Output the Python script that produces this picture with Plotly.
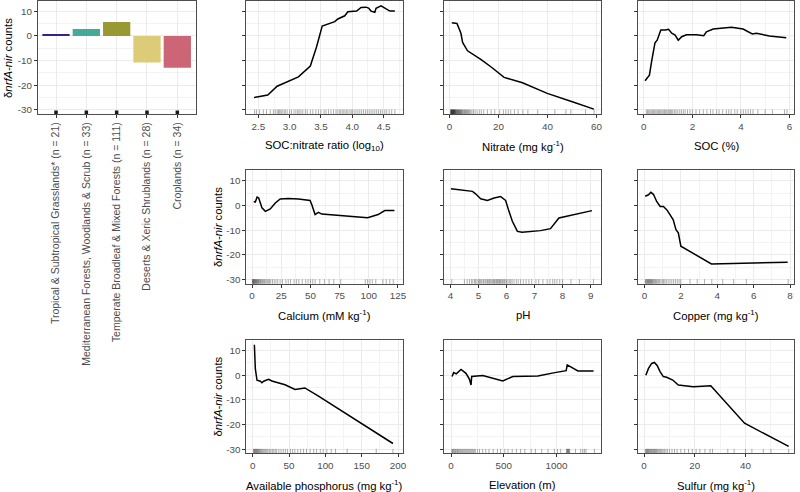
import plotly.graph_objects as go

FONT = "Liberation Sans, Arial, Helvetica, sans-serif"

# ---------------- data ----------------
biome_labels = [
    "Tropical & Subtropical Grasslands* (n = 21)",
    "Mediterranean Forests, Woodlands & Scrub (n = 33)",
    "Temperate Broadleaf & Mixed Forests (n = 111)",
    "Deserts & Xeric Shrublands (n = 28)",
    "Croplands (n = 34)",
]
biome_effect = [0.6, 2.8, 5.7, -10.8, -12.9]
biome_colors = ["#332288", "#44AA99", "#999933", "#DDCC77", "#CC6677"]

y_ticks = [-30, -20, -10, 0, 10]
y_tick_text = ["-30", "-20", "-10", "0", "10"]

socn_x = [2.43, 2.65, 2.80, 2.95, 3.14, 3.33, 3.43, 3.52, 3.67, 3.72, 3.77, 3.88, 3.93, 4.01, 4.07,
          4.14, 4.22, 4.26, 4.30, 4.36, 4.38, 4.46, 4.52, 4.60, 4.68]
socn_y = [-25.0, -24.0, -20.4, -18.6, -16.6, -12.2, -4.4, 4.0, 5.4, 5.8, 6.9, 8.2, 9.8, 10.1, 10.1,
          11.6, 11.7, 11.3, 10.1, 9.6, 11.2, 12.2, 11.2, 10.1, 10.1]
socn_rug = [2.44, 2.47, 2.52, 2.58, 2.63, 2.69, 2.74, 2.77, 2.8, 2.82, 2.84, 2.86, 2.88, 2.91, 2.93,
            2.96, 3.0, 3.03, 3.07, 3.1, 3.13, 3.15, 3.18, 3.21, 3.25, 3.28, 3.33, 3.37, 3.42, 3.46,
            3.5, 3.55, 3.58, 3.62, 3.66, 3.7, 3.74, 3.77, 3.8, 3.82, 3.85, 3.87, 3.9, 3.92, 3.95,
            3.98, 4.0, 4.03, 4.06, 4.09, 4.12, 4.15, 4.18, 4.21, 4.24, 4.27, 4.3, 4.33, 4.36, 4.39,
            4.42, 4.45, 4.48, 4.52, 4.55, 4.59, 4.63, 4.68]
socn_ticks = [2.5, 3.0, 3.5, 4.0, 4.5]
socn_tick_text = ["2.5", "3.0", "3.5", "4.0", "4.5"]

nitrate_x = [1.0, 3.1, 4.7, 5.4, 7.4, 10.2, 12.8, 16.9, 21.0, 22.3, 29.8, 39.9, 50.1, 58.9]
nitrate_y = [5.4, 5.1, 1.1, -2.6, -6.0, -7.8, -9.5, -12.5, -15.9, -16.8, -19.0, -23.3, -26.7, -29.7]
nitrate_rug = [0.5, 0.6, 0.7, 0.8, 0.9, 1.0, 1.1, 1.2, 1.3, 1.4, 1.5, 1.6, 1.7, 1.8, 1.9, 2.0, 2.1,
               2.2, 2.35, 2.5, 2.6, 2.8, 3.0, 3.1, 3.3, 3.5, 3.6, 3.8, 4.0, 4.2, 4.4, 4.6, 4.8, 5.0,
               5.3, 5.6, 5.9, 6.2, 6.5, 6.8, 7.1, 7.4, 7.8, 8.2, 8.7, 9.2, 9.8, 10.5, 11.3, 12.2,
               13.0, 14.0, 15.5, 17.0, 18.5, 20.5, 22.0, 23.0, 24.0, 25.0, 26.5, 28.0, 30.0, 32.0,
               36.0, 43.0, 47.5, 49.5, 55.5, 59.0]
nitrate_ticks = [0, 20, 40, 60]
nitrate_tick_text = ["0", "20", "40", "60"]

soc_x = [0.05, 0.23, 0.33, 0.46, 0.55, 0.70, 0.88, 1.02, 1.15, 1.29, 1.42, 1.56, 1.76, 2.17, 2.47,
         2.58, 2.86, 3.27, 3.61, 4.09, 4.30, 4.47, 4.64, 5.18, 5.87]
soc_y = [-18.2, -15.9, -9.8, -2.8, -1.7, 2.4, 2.4, 2.7, 1.1, 0.4, -1.7, -0.3, 0.5, 0.5, 0.1,
         1.7, 2.8, 3.1, 3.5, 2.8, 1.7, 0.8, 1.1, 0.0, -0.7]
soc_rug = [0.1, 0.15, 0.2, 0.25, 0.3, 0.35, 0.4, 0.45, 0.5, 0.55, 0.6, 0.65, 0.7, 0.75, 0.8, 0.85,
           0.9, 0.95, 1.0, 1.05, 1.1, 1.15, 1.2, 1.27, 1.33, 1.4, 1.48, 1.55, 1.63, 1.7, 1.8, 1.9,
           2.0, 2.15, 2.3, 2.45, 2.6, 2.75, 2.85, 3.0, 3.1, 3.25, 3.4, 3.5, 3.6, 3.75, 3.85, 4.0,
           4.1, 4.2, 4.3, 4.4, 4.5, 4.7, 5.0, 5.3, 5.8, 5.9]
soc_ticks = [0, 2, 4, 6]
soc_tick_text = ["0", "2", "4", "6"]

ca_x = [1.4, 2.8, 4.3, 5.7, 7.1, 8.5, 11.4, 15.6, 19.9, 24.1, 31.2, 39.8, 49.7, 51.2, 54.0, 56.8,
        59.7, 76.7, 93.8, 99.0, 108.0, 113.7, 122.0]
ca_y = [1.6, 1.4, 3.4, 3.0, 1.0, -1.0, -2.4, -1.4, 1.0, 2.6, 2.8, 2.6, 2.0, 0.3, -3.7, -2.8,
        -3.5, -4.1, -4.7, -5.0, -3.7, -2.1, -2.1]
ca_rug = [0.3, 0.6, 1.0, 1.3, 1.6, 2.0, 2.4, 2.8, 3.2, 3.6, 4.0, 4.5, 5.0, 5.5, 6.0, 6.6, 7.2, 8.0,
          8.8, 9.5, 10.3, 11.0, 12.0, 13.0, 14.0, 15.0, 16.0, 17.5, 19.0, 20.5, 22.0, 24.0, 26.0,
          29.0, 31.0, 33.0, 36.0, 38.0, 40.0, 43.0, 46.0, 48.0, 50.0, 52.0, 54.0, 58.0, 62.0,
          66.0, 70.0, 76.0, 97.0, 99.0, 101.0, 103.0, 106.0, 112.0, 115.0, 118.0, 121.0]
ca_ticks = [0, 25, 50, 75, 100, 125]
ca_tick_text = ["0", "25", "50", "75", "100", "125"]

ph_x = [4.02, 4.79, 4.90, 5.08, 5.32, 5.56, 5.79, 5.97, 6.09, 6.21, 6.39, 6.56, 7.21, 7.57, 7.87, 9.05]
ph_y = [6.8, 5.7, 4.7, 2.7, 2.0, 3.0, 3.6, 2.0, -2.4, -6.4, -10.5, -10.9, -10.2, -9.4, -5.1, -2.1]
ph_rug = [4.05, 4.5, 4.6, 4.68, 4.75, 4.8, 4.86, 4.9, 4.95, 5.0, 5.04, 5.08, 5.12, 5.17, 5.2,
          5.25, 5.3, 5.33, 5.37, 5.4, 5.44, 5.48, 5.52, 5.55, 5.58, 5.62, 5.65, 5.68, 5.72, 5.75,
          5.78, 5.81, 5.85, 5.88, 5.92, 5.95, 6.0, 6.05, 6.1, 6.15, 6.2, 6.27, 6.35, 6.42, 6.5,
          6.6, 6.7, 6.8, 6.9, 7.05, 7.15, 7.3, 7.45, 7.55, 7.65, 7.72, 7.8, 7.9, 8.0, 8.3, 8.6, 9.1]
ph_ticks = [4, 5, 6, 7, 8, 9]
ph_tick_text = ["4", "5", "6", "7", "8", "9"]

cu_x = [0.04, 0.22, 0.35, 0.49, 0.67, 0.86, 1.04, 1.22, 1.40, 1.58, 1.73, 1.86, 2.00, 3.68, 7.87]
cu_y = [3.7, 4.3, 5.3, 4.5, 1.6, -0.4, -0.4, -1.7, -3.7, -5.8, -9.8, -11.1, -16.5, -23.7, -23.0]
cu_rug = [0.05, 0.08, 0.12, 0.15, 0.18, 0.22, 0.25, 0.28, 0.32, 0.35, 0.38, 0.42, 0.45, 0.5,
          0.55, 0.6, 0.65, 0.7, 0.76, 0.82, 0.9, 0.98, 1.05, 1.12, 1.2, 1.3, 1.4, 1.5, 1.6, 1.7,
          1.8, 1.9, 2.0, 2.5, 2.9, 3.3, 3.7, 4.3, 4.9, 5.6, 7.9]
cu_ticks = [0, 2, 4, 6, 8]
cu_tick_text = ["0", "2", "4", "6", "8"]

p_x = [2.3, 3.6, 5.9, 10.5, 12.7, 15.0, 21.8, 26.4, 44.5, 58.2, 71.8, 90.0, 193.0]
p_y = [12.3, 2.6, -2.1, -2.5, -3.1, -2.5, -1.7, -2.4, -3.9, -5.8, -5.2, -8.4, -27.7]
p_rug = [1.0, 1.8, 2.5, 3.2, 4.0, 4.8, 5.5, 6.3, 7.0, 8.0, 9.0, 10.0, 11.0, 12.0, 13.5, 15.0,
         16.5, 18.0, 19.5, 21.0, 23.0, 25.0, 27.0, 29.0, 31.0, 33.0, 36.0, 39.0, 42.0, 45.0,
         48.0, 52.0, 55.0, 58.0, 62.0, 66.0, 70.0, 74.0, 79.0, 84.0, 88.0, 93.0, 97.0, 102.0,
         108.0, 114.0, 130.0, 170.0, 193.0]
p_ticks = [0, 50, 100, 150, 200]
p_tick_text = ["0", "50", "100", "150", "200"]

elev_x = [9.5, 25.6, 50.0, 95.0, 142.0, 174.0, 190.0, 196.0, 301.0, 491.0, 586.0, 823.0, 997.0,
          1092.0, 1102.0, 1203.0, 1352.0]
elev_y = [-0.6, 1.0, 0.5, 2.3, 0.7, -1.6, -4.0, -0.6, -0.2, -2.4, -0.6, -0.4, 1.1, 1.8, 4.1, 1.7, 1.7]
elev_rug = [8, 15, 22, 30, 38, 45, 55, 62, 70, 80, 90, 100, 110, 120, 130, 140, 150, 160, 170,
            180, 190, 200, 210, 220, 230, 250, 270, 300, 330, 360, 400, 440, 470, 510, 540,
            580, 620, 660, 700, 760, 800, 860, 920, 980, 1010, 1040, 1095, 1100, 1105, 1110,
            1115, 1120, 1125, 1180, 1230, 1250, 1265, 1280, 1360]
elev_ticks = [0, 500, 1000]
elev_tick_text = ["0", "500", "1000"]

s_x = [0.7, 1.7, 3.0, 4.1, 5.2, 6.3, 7.6, 8.9, 11.3, 13.5, 19.4, 26.3, 39.6, 57.0]
s_y = [-0.1, 2.6, 4.7, 5.1, 3.8, 1.4, -0.6, -0.9, -2.0, -4.0, -4.7, -4.3, -19.5, -28.9]
s_rug = [0.5, 0.8, 1.0, 1.3, 1.5, 1.8, 2.0, 2.3, 2.6, 2.9, 3.2, 3.5, 3.8, 4.1, 4.4, 4.7, 5.0,
         5.4, 5.8, 6.2, 6.6, 7.0, 7.5, 8.0, 8.6, 9.2, 10.0, 11.0, 12.0, 13.0, 14.5, 16.0, 17.5,
         19.0, 20.5, 22.0, 24.0, 26.0, 27.0, 33.0, 35.5, 40.0, 42.5, 47.0, 50.0, 57.0]
s_ticks = [0, 20, 40]
s_tick_text = ["0", "20", "40"]

# ---------------- layout geometry ----------------
W, H = 800, 492
COLS = {"bar": (38.0, 196.5), "A": (247.7, 405.0), "B": (446.7, 604.0), "C": (641.7, 798.0)}
ROWS = {1: (1.0, 114.3), 2: (170.7, 284.3), 3: (340.7, 454.3)}
Y_RANGE = [-31.7, 14.2]
RUG_Y = -31.0


def xdom(c):
    a, b = COLS[c]
    return [a / W, b / W]


def ydom(r):
    t, b = ROWS[r]
    return [1 - b / H, 1 - t / H]


def minor_ticks(major, lo, hi):
    step = major[1] - major[0]
    ext = [major[0] - step] + list(major) + [major[-1] + step]
    mids = [(a + b) / 2 for a, b in zip(ext[:-1], ext[1:])]
    return [m for m in mids if lo <= m <= hi]


GRID = "#EBEBEB"
MINOR = "#F3F3F3"
BORDER = "#4D4D4D"
TICKFONT = dict(family=FONT, size=9.8, color="#4D4D4D")
TITLEFONT = dict(family=FONT, size=11.3, color="black")

panels = [
    dict(x=socn_x, y=socn_y, rug=socn_rug, col="A", row=1, xr=[2.31, 4.81], xt=socn_ticks,
         xtt=socn_tick_text, title="SOC:nitrate ratio (log<sub>10</sub>)", ylab=False),
    dict(x=nitrate_x, y=nitrate_y, rug=nitrate_rug, col="B", row=1, xr=[-2.0, 61.8], xt=nitrate_ticks,
         xtt=nitrate_tick_text, title="Nitrate (mg kg<sup>-1</sup>)", ylab=False),
    dict(x=soc_x, y=soc_y, rug=soc_rug, col="C", row=1, xr=[-0.22, 6.19], xt=soc_ticks,
         xtt=soc_tick_text, title="SOC (%)", ylab=False),
    dict(x=ca_x, y=ca_y, rug=ca_rug, col="A", row=2, xr=[-4.8, 129.3], xt=ca_ticks,
         xtt=ca_tick_text, title="Calcium (mM kg<sup>-1</sup>)", ylab=True),
    dict(x=ph_x, y=ph_y, rug=ph_rug, col="B", row=2, xr=[3.79, 9.37], xt=ph_ticks,
         xtt=ph_tick_text, title="pH", ylab=False),
    dict(x=cu_x, y=cu_y, rug=cu_rug, col="C", row=2, xr=[-0.33, 8.22], xt=cu_ticks,
         xtt=cu_tick_text, title="Copper (mg kg<sup>-1</sup>)", ylab=False),
    dict(x=p_x, y=p_y, rug=p_rug, col="A", row=3, xr=[-8.6, 206.8], xt=p_ticks,
         xtt=p_tick_text, title="Available phosphorus (mg kg<sup>-1</sup>)", ylab=True),
    dict(x=elev_x, y=elev_y, rug=elev_rug, col="B", row=3, xr=[-62, 1422], xt=elev_ticks,
         xtt=elev_tick_text, title="Elevation (m)", ylab=False),
    dict(x=s_x, y=s_y, rug=s_rug, col="C", row=3, xr=[-2.2, 59.1], xt=s_ticks,
         xtt=s_tick_text, title="Sulfur (mg kg<sup>-1</sup>)", ylab=False),
]

TITLE_Y = {1: 146.0, 2: 316.0, 3: 486.0}

fig = go.Figure()
layout = dict(
    width=W, height=H,
    margin=dict(l=0, r=0, t=0, b=0),
    paper_bgcolor="white", plot_bgcolor="white",
    showlegend=False,
    font=dict(family=FONT, color="black"),
)
annotations = []


def axis_common():
    return dict(
        showline=True, mirror=True, linecolor=BORDER, linewidth=1,
        ticks="outside", ticklen=3, tickwidth=1, tickcolor="#333333",
        showgrid=True, gridcolor=GRID, gridwidth=1, zeroline=False,
        tickfont=TICKFONT, fixedrange=True,
    )


# ---- bar panel (axis 1) ----
fig.add_trace(go.Bar(x=biome_labels, y=biome_effect, marker=dict(color=biome_colors, line=dict(width=0)),
                     width=0.9, xaxis="x", yaxis="y", hoverinfo="skip"))
fig.add_trace(go.Scatter(x=biome_labels, y=[RUG_Y] * len(biome_labels), mode="markers",
                         marker=dict(symbol="square", size=3.5, color="#1a1a1a"),
                         xaxis="x", yaxis="y", hoverinfo="skip"))
xa = axis_common()
xa.update(domain=xdom("bar"), anchor="y", type="category", range=[-0.6, 4.6],
          tickangle=-90, tickfont=dict(family=FONT, size=10.5, color="#4D4D4D"))
ya = axis_common()
ya.update(domain=ydom(1), anchor="x", range=Y_RANGE, tickvals=y_ticks, ticktext=y_tick_text,
          minor=dict(tickvals=minor_ticks(y_ticks, *Y_RANGE), showgrid=True, gridcolor=MINOR,
                     gridwidth=0.6, ticks=""))
layout["xaxis"] = xa
layout["yaxis"] = ya
annotations.append(dict(text="δ<i>nrfA-nir</i> counts", textangle=-90, xref="paper", yref="paper",
                        x=8.5 / W, y=1 - 57.6 / H, showarrow=False, font=TITLEFONT,
                        xanchor="center", yanchor="middle"))

# ---- curve panels ----
for i, p in enumerate(panels, start=2):
    xn, yn = f"x{i}", f"y{i}"
    fig.add_trace(go.Scatter(x=p["rug"], y=[RUG_Y] * len(p["rug"]), mode="markers",
                             marker=dict(symbol="line-ns", size=4,
                                         line=dict(width=1, color="rgba(0,0,0,0.32)")),
                             xaxis=xn, yaxis=yn, hoverinfo="skip"))
    fig.add_trace(go.Scatter(x=p["x"], y=p["y"], mode="lines",
                             line=dict(color="black", width=1.5, shape="linear"),
                             xaxis=xn, yaxis=yn, hoverinfo="skip"))
    xa = axis_common()
    xa.update(domain=xdom(p["col"]), anchor=yn, range=p["xr"], tickvals=p["xt"], ticktext=p["xtt"],
              minor=dict(tickvals=minor_ticks(p["xt"], *p["xr"]), showgrid=True, gridcolor=MINOR,
                         gridwidth=0.6, ticks=""))
    ya = axis_common()
    ya.update(domain=ydom(p["row"]), anchor=xn, range=Y_RANGE, tickvals=y_ticks, ticktext=y_tick_text,
              showticklabels=p["ylab"],
              minor=dict(tickvals=minor_ticks(y_ticks, *Y_RANGE), showgrid=True, gridcolor=MINOR,
                         gridwidth=0.6, ticks=""))
    layout[f"xaxis{i}"] = xa
    layout[f"yaxis{i}"] = ya
    a, b = COLS[p["col"]]
    annotations.append(dict(text=p["title"], xref="paper", yref="paper",
                            x=(a + b) / 2 / W, y=1 - TITLE_Y[p["row"]] / H, showarrow=False,
                            font=TITLEFONT, xanchor="center", yanchor="middle"))
    if p["ylab"]:
        t, bt = ROWS[p["row"]]
        annotations.append(dict(text="δ<i>nrfA-nir</i> counts", textangle=-90, xref="paper",
                                yref="paper", x=219.0 / W, y=1 - (t + bt) / 2 / H, showarrow=False,
                                font=TITLEFONT, xanchor="center", yanchor="middle"))

layout["annotations"] = annotations
fig.update_layout(**layout)
fig.write_html("out.html", config={"displayModeBar": False},
               post_script="document.body.style.margin='0';document.body.style.padding='0';"
                           "document.body.style.overflow='hidden';")
